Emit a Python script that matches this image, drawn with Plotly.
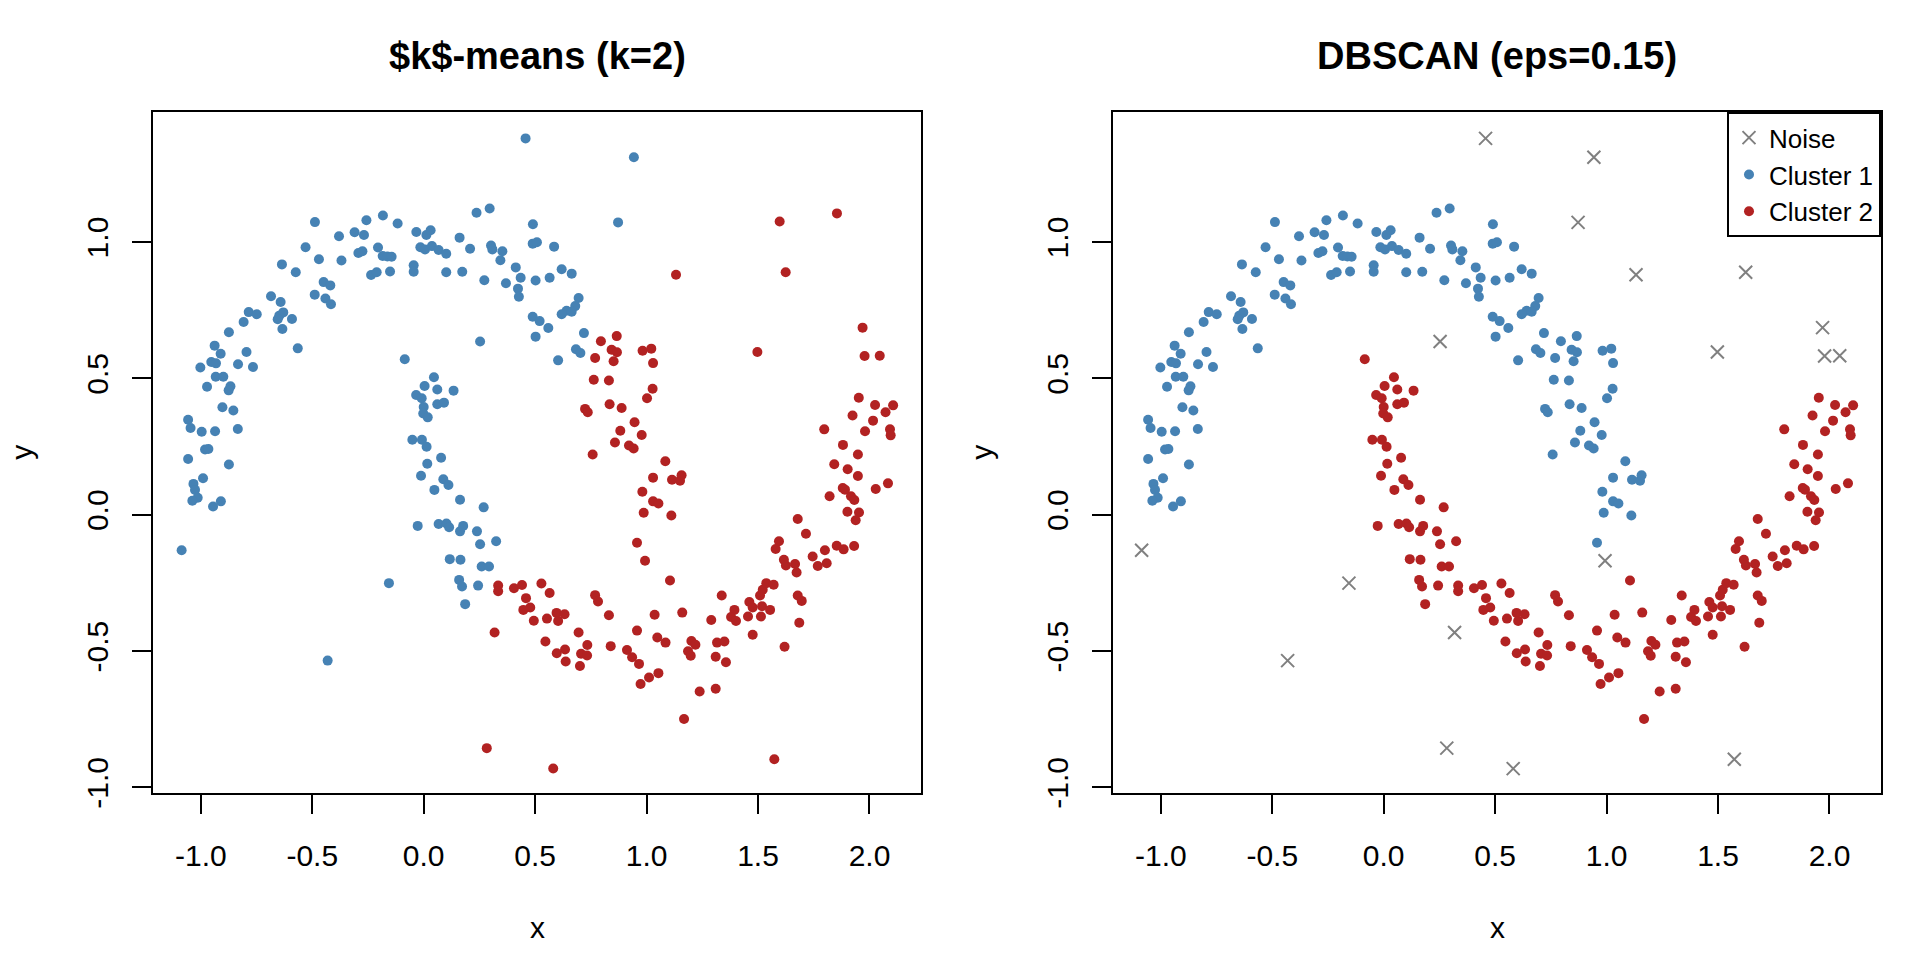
import plotly.graph_objects as go

# k-means: синий кластер, DBSCAN: кластер 1 (верхняя луна)
blue_c1_x = [-0.488, -0.257, -0.183, -0.117, 0.237, -0.380, -0.310, -0.268, -0.033, 0.012, 0.031, 0.161,
             -0.530, -0.205, -0.293, -0.275, -0.184, -0.163, -0.144, -0.015, 0.006, 0.037, 0.067, 0.101,
             0.208, -0.470, -0.369, -0.636, -0.574, -0.236, -0.211, -0.151, -0.045, -0.045, 0.101, 0.173,
             -0.449, -0.419, -0.489, -0.441, -0.416, -0.685, -0.642, -0.785, -0.749, -0.648, -0.630, -0.655,
             -0.591, -0.808, -0.634, -0.874, -0.565, -0.938, -0.911, -0.795, -0.953, -0.932, -1.002, -0.833,
             -0.766, -0.933, -0.899, -0.867, -0.875, -0.972, -0.903, -0.854, -1.057, -1.046, -0.996, -0.936,
             -0.834, -0.981, -0.966, -1.057, -0.874, -0.990, -1.033, -1.026, -1.014, -1.038, -0.910, -0.945,
             0.296, 0.490, 0.302, 0.308, 0.353, 0.489, 0.508, 0.585, 0.344, 0.413, 0.272, 0.369, 0.435,
             0.502, 0.565, 0.619, 0.664, 0.423, 0.427, 0.695, 0.680, 0.641, 0.619, 0.664, 0.489, 0.520,
             0.559, 0.502, 0.719, 0.683, 0.703, 0.603]
blue_c1_y = [1.073, 1.080, 1.097, 1.068, 1.107, 1.021, 1.036, 1.026, 1.037, 1.026, 1.043, 1.016,
             0.981, 0.980, 0.960, 0.966, 0.949, 0.947, 0.946, 0.981, 0.973, 0.985, 0.971, 0.957,
             0.975, 0.937, 0.932, 0.918, 0.889, 0.879, 0.889, 0.892, 0.915, 0.891, 0.889, 0.891,
             0.853, 0.841, 0.807, 0.793, 0.772, 0.801, 0.780, 0.743, 0.735, 0.730, 0.742, 0.717,
             0.718, 0.707, 0.681, 0.669, 0.610, 0.620, 0.590, 0.597, 0.560, 0.555, 0.540, 0.552,
             0.542, 0.506, 0.506, 0.471, 0.456, 0.469, 0.394, 0.382, 0.348, 0.318, 0.304, 0.306,
             0.314, 0.239, 0.241, 0.204, 0.184, 0.134, 0.113, 0.091, 0.062, 0.051, 0.049, 0.030,
             1.123, 1.065, 0.987, 0.973, 0.966, 0.994, 0.999, 0.983, 0.933, 0.907, 0.860, 0.849, 0.869,
             0.859, 0.869, 0.900, 0.884, 0.829, 0.799, 0.795, 0.765, 0.748, 0.735, 0.744, 0.726, 0.710,
             0.685, 0.653, 0.666, 0.607, 0.593, 0.566]

# k-means: красный кластер, DBSCAN: кластер 1
red_c1_x = [0.866, 0.795, 0.843, 0.867, 0.982, 1.021, 0.769, 0.852, 1.029, 0.763, 0.831, 1.027,
            1.002, 0.724, 0.736, 0.834, 0.888, 0.946, 0.882, 0.978, 0.858, 0.921, 0.942, 0.758,
            1.084, 1.029, 1.114, 1.150, 1.157, 0.981, 1.029, 1.053, 0.987, 1.111, 0.957]
red_c1_y = [0.655, 0.636, 0.605, 0.596, 0.601, 0.609, 0.575, 0.563, 0.556, 0.495, 0.492, 0.462,
            0.427, 0.388, 0.376, 0.405, 0.391, 0.339, 0.308, 0.292, 0.265, 0.254, 0.243, 0.221,
            0.196, 0.136, 0.128, 0.125, 0.145, 0.084, 0.049, 0.041, 0.007, -0.003, -0.103]

# k-means: синий кластер, DBSCAN: кластер 2 (нижняя луна)
blue_c2_x = [-0.085, 0.046, 0.004, 0.061, 0.134, -0.034, -0.009, 0.061, 0.091, 0.000, -0.002, 0.018,
             -0.051, -0.008, 0.013, 0.078, 0.016, -0.012, 0.088, 0.111, 0.048, 0.163, -0.027, 0.067,
             0.102, 0.114, 0.163, 0.177, 0.117, 0.165, 0.159, 0.172, 0.186, 0.269, 0.239, 0.253,
             0.325, 0.260, 0.293, 0.244]
blue_c2_y = [0.570, 0.504, 0.472, 0.459, 0.455, 0.439, 0.427, 0.405, 0.411, 0.395, 0.371, 0.357,
             0.275, 0.275, 0.249, 0.209, 0.187, 0.143, 0.130, 0.109, 0.091, 0.055, -0.041, -0.034,
             -0.032, -0.046, -0.061, -0.041, -0.163, -0.165, -0.239, -0.263, -0.328, 0.027, -0.061, -0.108,
             -0.097, -0.190, -0.190, -0.260]

# k-means: красный кластер, DBSCAN: кластер 2
red_c2_x = [1.952, 2.025, 2.106, 2.072, 1.924, 2.016, 1.797, 1.980, 2.092, 2.095, 1.881, 1.948,
            1.842, 1.902, 1.948, 1.880, 1.890, 2.083, 2.028, 1.821, 1.917, 1.932, 1.901, 1.953,
            1.938, 1.678, 1.715, 1.105, 1.594, 1.579, 1.853, 1.884, 1.931, 1.800, 1.745, 1.768,
            1.808, 1.616, 1.625, 1.666, 1.673, 0.334, 0.334, 0.405, 0.441, 0.528, 0.565, 0.459,
            0.478, 0.447, 0.494, 0.553, 0.596, 0.632, 0.603, 0.769, 0.782, 0.831, 0.695, 0.546,
            0.634, 0.597, 0.637, 0.734, 0.706, 0.733, 0.701, 0.839, 0.912, 0.935, 0.966, 0.957,
            1.036, 1.048, 1.085, 1.160, 1.053, 1.011, 0.973, 1.201, 1.219, 1.186, 1.198, 1.238,
            1.310, 1.168, 1.290, 1.337, 1.316, 1.349, 1.310, 1.356, 1.394, 1.379, 1.401, 1.455,
            1.513, 1.461, 1.476, 1.518, 1.554, 1.509, 1.521, 1.537, 1.570, 1.476, 1.619, 1.678,
            1.696, 1.685]
red_c2_y = [0.429, 0.402, 0.401, 0.376, 0.364, 0.345, 0.313, 0.306, 0.313, 0.291, 0.256, 0.221,
            0.185, 0.167, 0.142, 0.098, 0.092, 0.115, 0.094, 0.068, 0.068, 0.054, 0.011, 0.008,
            -0.020, -0.016, -0.070, -0.241, -0.097, -0.126, -0.114, -0.127, -0.115, -0.130, -0.153, -0.188,
            -0.178, -0.165, -0.186, -0.181, -0.212, -0.260, -0.281, -0.270, -0.258, -0.252, -0.287, -0.306,
            -0.340, -0.349, -0.389, -0.381, -0.360, -0.365, -0.390, -0.295, -0.318, -0.369, -0.432, -0.465,
            -0.494, -0.508, -0.538, -0.478, -0.510, -0.516, -0.555, -0.482, -0.496, -0.523, -0.547, -0.425,
            -0.367, -0.450, -0.469, -0.359, -0.581, -0.597, -0.621, -0.463, -0.477, -0.501, -0.517, -0.648,
            -0.638, -0.749, -0.386, -0.296, -0.469, -0.465, -0.521, -0.541, -0.349, -0.375, -0.390, -0.373,
            -0.373, -0.320, -0.340, -0.336, -0.349, -0.296, -0.275, -0.251, -0.257, -0.440, -0.484, -0.296,
            -0.316, -0.396]

# шум DBSCAN (цвет слева по k-means)
blue_noise_x = [0.457, 0.943, 0.872, 0.253, -1.086, -0.156, -0.431]
blue_noise_y = [1.380, 1.311, 1.072, 0.635, -0.130, -0.251, -0.535]
red_noise_x = [1.597, 1.854, 1.132, 1.624, 1.497, 1.969, 1.978, 2.046, 0.993, 0.318, 0.283, 0.581, 1.573]
red_noise_y = [1.075, 1.105, 0.880, 0.889, 0.597, 0.686, 0.582, 0.583, -0.169, -0.432, -0.856, -0.931, -0.897]

x_ticks = [-1.0, -0.5, 0.0, 0.5, 1.0, 1.5, 2.0]
x_labels = ["-1.0", "-0.5", "0.0", "0.5", "1.0", "1.5", "2.0"]
y_ticks = [-1.0, -0.5, 0.0, 0.5, 1.0]
y_labels = ["-1.0", "-0.5", "0.0", "0.5", "1.0"]

titles = ["$k$-means (k=2)", "DBSCAN (eps=0.15)"]

BLUE = "#4682B4"
RED = "#B22222"
GRAY = "#808080"
FONT = "Liberation Sans, Arial, Helvetica, sans-serif"


def dots(x, y, color, name, axes, legend=False):
    return go.Scatter(
        x=x, y=y, mode="markers", name=name, showlegend=legend,
        xaxis=axes[0], yaxis=axes[1],
        marker={'size': 10, 'color': color, 'line': {'width': 0}},
    )


def axis(domain, vals, text, rng, angle=0, anchor=None, standoff=16):
    return {
        'domain': domain,
        'range': rng,
        'anchor': anchor,
        'tickmode': 'array',
        'tickvals': vals,
        'ticktext': text,
        'tickangle': angle,
        'ticks': 'outside',
        'ticklen': 19,
        'tickwidth': 2,
        'tickcolor': 'black',
        'ticklabelstandoff': standoff,
        'tickfont': {'size': 30, 'color': 'black'},
        'showline': True,
        'linewidth': 2,
        'linecolor': 'black',
        'mirror': True,
        'showgrid': False,
        'zeroline': False,
    }


fig = go.Figure()

# слева: k-means
fig.add_trace(dots(blue_c1_x + blue_c2_x + blue_noise_x, blue_c1_y + blue_c2_y + blue_noise_y,
                   BLUE, "k1", ("x", "y")))
fig.add_trace(dots(red_c1_x + red_c2_x + red_noise_x, red_c1_y + red_c2_y + red_noise_y,
                   RED, "k2", ("x", "y")))

# справа: DBSCAN
fig.add_trace(go.Scatter(
    x=blue_noise_x + red_noise_x, y=blue_noise_y + red_noise_y, mode="markers", name="Noise",
    xaxis="x2", yaxis="y2",
    marker={'symbol': 'x-thin-open', 'size': 13, 'color': GRAY, 'line': {'width': 2, 'color': GRAY}},
))
fig.add_trace(dots(blue_c1_x + red_c1_x, blue_c1_y + red_c1_y, BLUE, "Cluster 1", ("x2", "y2"), True))
fig.add_trace(dots(blue_c2_x + red_c2_x, blue_c2_y + red_c2_y, RED, "Cluster 2", ("x2", "y2"), True))

x_range = [-1.2145, 2.2311]
y_range = [-1.022, 1.476]
y_dom = [1 - 806 / 960, 1 - 114 / 960]
left_dom = [153 / 1920, 921 / 1920]
right_dom = [1113 / 1920, 1881 / 1920]

annotations = []
for dom, title in zip([left_dom, right_dom], titles):
    mid = (dom[0] + dom[1]) / 2
    annotations.append({'text': "<b>%s</b>" % title, 'x': mid, 'y': 1 - 57 / 960, 'xref': 'paper', 'yref': 'paper',
                        'showarrow': False, 'xanchor': 'center', 'yanchor': 'middle', 'font': {'size': 38}})
    annotations.append({'text': "x", 'x': mid, 'y': 1 - 942 / 960, 'xref': 'paper', 'yref': 'paper',
                        'showarrow': False, 'xanchor': 'center', 'yanchor': 'middle', 'font': {'size': 30}})
    annotations.append({'text': "y", 'x': (dom[0] * 1920 - 131) / 1920, 'y': (y_dom[0] + y_dom[1]) / 2,
                        'xref': 'paper', 'yref': 'paper', 'textangle': -90,
                        'showarrow': False, 'xanchor': 'center', 'yanchor': 'middle', 'font': {'size': 30}})

fig.update_layout(
    width=1920, height=960,
    margin={'l': 0, 'r': 0, 't': 0, 'b': 0},
    paper_bgcolor="white", plot_bgcolor="white",
    font={'family': FONT, 'color': 'black'},
    xaxis=axis(left_dom, x_ticks, x_labels, x_range, anchor="y"),
    yaxis=axis(y_dom, y_ticks, y_labels, y_range, angle=-90, anchor="x", standoff=12),
    xaxis2=axis(right_dom, x_ticks, x_labels, x_range, anchor="y2"),
    yaxis2=axis(y_dom, y_ticks, y_labels, y_range, angle=-90, anchor="x2", standoff=12),
    legend={
        'x': right_dom[1], 'y': y_dom[1], 'xanchor': 'right', 'yanchor': 'top',
        'bgcolor': 'white', 'bordercolor': 'black', 'borderwidth': 2,
        'font': {'size': 26}, 'traceorder': 'normal', 'itemsizing': 'trace',
    },
    annotations=annotations,
    showlegend=True,
)

# у body по умолчанию отступ 8px, убираем его; панель инструментов не нужна
fig.write_html("out.html", config={'displayModeBar': False},
               post_script="document.body.style.margin = '0';")
